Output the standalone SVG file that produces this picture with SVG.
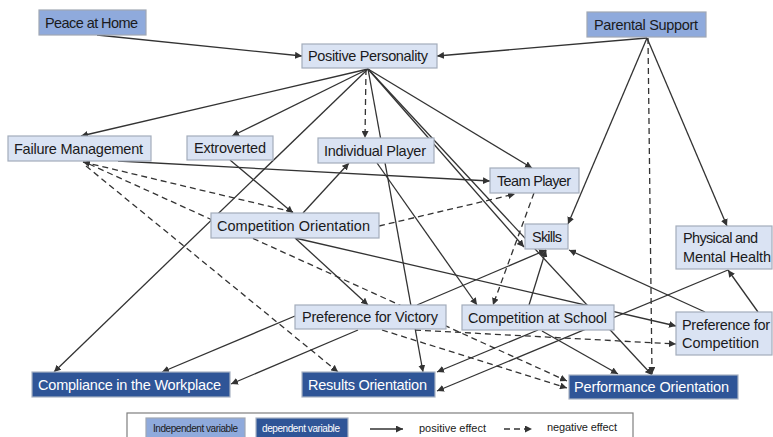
<svg xmlns="http://www.w3.org/2000/svg" width="773" height="437" viewBox="0 0 773 437">
<defs>
<marker id="ah" markerUnits="userSpaceOnUse" markerWidth="8" markerHeight="7" refX="7" refY="3.5" orient="auto">
<path d="M0,0 L7,3.5 L0,7 Z" fill="#333"/>
</marker>
<style>
.c{fill:none;stroke:#333;stroke-width:1.3;marker-end:url(#ah)}
.d{stroke-dasharray:6,4}
.lt rect{fill:#dae3f3;stroke:#a3acbb;stroke-width:1.2}
.iv rect{fill:#8faadc;stroke:#a0a7b4;stroke-width:1.2}
.dv rect{fill:#2f5597;stroke:#a8b2c4;stroke-width:1.2}
text{font-family:"Liberation Sans",Arial,sans-serif;font-size:14.5px;fill:#1a1a20}
.dv text{fill:#ffffff}
.lg{font-size:10px}
.le{font-size:11px}
</style>
</defs>
<g id="connectors">
<line class="c" x1="97" y1="35" x2="302" y2="56"/>
<line class="c" x1="647" y1="38" x2="437" y2="56"/>
<line class="c" x1="368" y1="69" x2="81" y2="136"/>
<line class="c" x1="368" y1="69" x2="232" y2="136"/>
<line class="c" x1="368" y1="69" x2="54" y2="372"/>
<line class="c" x1="368" y1="69" x2="423" y2="372"/>
<line class="c" x1="368" y1="69" x2="532" y2="168"/>
<line class="c" x1="368" y1="69" x2="524" y2="247"/>
<line class="c" x1="368" y1="69" x2="652" y2="375"/>
<line class="c" x1="118" y1="161" x2="490" y2="181"/>
<line class="c" x1="230" y1="160" x2="293" y2="213"/>
<line class="c" x1="303" y1="213" x2="349" y2="163"/>
<line class="c" x1="377" y1="163" x2="477" y2="305"/>
<line class="c" x1="295" y1="238" x2="368" y2="305"/>
<line class="c" x1="295" y1="238" x2="676" y2="326"/>
<line class="c" x1="647" y1="38" x2="568" y2="224"/>
<line class="c" x1="647" y1="38" x2="727" y2="226"/>
<line class="c" x1="417" y1="305" x2="546" y2="250"/>
<line class="c" x1="529" y1="305" x2="546" y2="250"/>
<line class="c" x1="705" y1="312" x2="569" y2="250"/>
<line class="c" x1="758" y1="312" x2="728" y2="270"/>
<line class="c" x1="728" y1="270" x2="437" y2="391"/>
<line class="c" x1="538" y1="330" x2="437" y2="372"/>
<line class="c" x1="542" y1="331" x2="618" y2="374"/>
<line class="c" x1="295" y1="316" x2="162" y2="372"/>
<line class="c" x1="358" y1="330" x2="231" y2="384"/>
<line class="c d" x1="366" y1="69" x2="365" y2="138"/>
<line class="c d" x1="293" y1="212" x2="83" y2="162"/>
<line class="c d" x1="89" y1="164" x2="567" y2="381"/>
<line class="c d" x1="86" y1="166" x2="338" y2="372"/>
<line class="c d" x1="379" y1="226" x2="515" y2="194"/>
<line class="c d" x1="534" y1="193" x2="493" y2="305"/>
<line class="c d" x1="648" y1="38" x2="652" y2="374"/>
<line class="c d" x1="382" y1="330" x2="567" y2="388"/>
<line class="c d" x1="415" y1="330" x2="676" y2="344"/>
</g>
<g id="peace-at-home" class="iv"><rect x="39" y="10" width="107" height="25"/><text x="45" y="27.5" textLength="93">Peace at Home</text></g>
<g id="parental-support" class="iv"><rect x="587" y="12" width="119" height="25"/><text x="594" y="29.5" textLength="104">Parental Support</text></g>
<g id="positive-personality" class="lt"><rect x="302" y="44" width="135" height="24"/><text x="308" y="61" textLength="120">Positive Personality</text></g>
<g id="failure-management" class="lt"><rect x="8" y="136" width="143" height="25"/><text x="14" y="153.5" textLength="129">Failure Management</text></g>
<g id="extroverted" class="lt"><rect x="187" y="136" width="86" height="24"/><text x="194" y="153" textLength="72">Extroverted</text></g>
<g id="individual-player" class="lt"><rect x="318" y="138" width="116" height="25"/><text x="324" y="155.5" textLength="102">Individual Player</text></g>
<g id="team-player" class="lt"><rect x="490" y="168" width="89" height="25"/><text x="497" y="185.5" textLength="74">Team Player</text></g>
<g id="competition-orientation" class="lt"><rect x="211" y="213" width="168" height="25"/><text x="217" y="230.5" textLength="153">Competition Orientation</text></g>
<g id="skills" class="lt"><rect x="525" y="224" width="43" height="25"/><text x="532" y="241.5" textLength="30">Skills</text></g>
<g id="physical-mental-health" class="lt"><rect x="676" y="226" width="96" height="43"/><text x="683" y="243" textLength="75">Physical and</text><text x="683" y="262" textLength="88">Mental Health</text></g>
<g id="preference-for-victory" class="lt"><rect x="295" y="305" width="151" height="24"/><text x="302" y="322" textLength="136">Preference for Victory</text></g>
<g id="competition-at-school" class="lt"><rect x="462" y="305" width="152" height="25"/><text x="468" y="322.5" textLength="139">Competition at School</text></g>
<g id="preference-for-competition" class="lt"><rect x="676" y="312" width="96" height="43"/><text x="682" y="330" textLength="88">Preference for</text><text x="682" y="348" textLength="77">Competition</text></g>
<g id="compliance-workplace" class="dv"><rect x="32" y="372" width="198" height="25"/><text x="38" y="389.5" textLength="183">Compliance in the Workplace</text></g>
<g id="results-orientation" class="dv"><rect x="302" y="372" width="133" height="25"/><text x="308" y="389.5" textLength="119">Results Orientation</text></g>
<g id="performance-orientation" class="dv"><rect x="569" y="375" width="169" height="24"/><text x="574" y="392" textLength="155">Performance Orientation</text></g>
<g id="legend">
<rect x="127" y="413" width="506" height="30" fill="#ffffff" stroke="#7f7f7f" stroke-width="1.2"/>
<g class="iv"><rect x="146" y="418" width="99" height="22"/><text class="lg" x="153" y="432" textLength="85">Independent variable</text></g>
<g class="dv"><rect x="256" y="418" width="92" height="22"/><text class="lg" x="262" y="432" textLength="78">dependent variable</text></g>
<line class="c" x1="370" y1="429" x2="403" y2="429"/>
<text class="le" x="419" y="432" textLength="67">positive effect</text>
<line class="c d" x1="504" y1="429" x2="532" y2="429"/>
<text class="le" x="547" y="431" textLength="70">negative effect</text>
</g>
</svg>
